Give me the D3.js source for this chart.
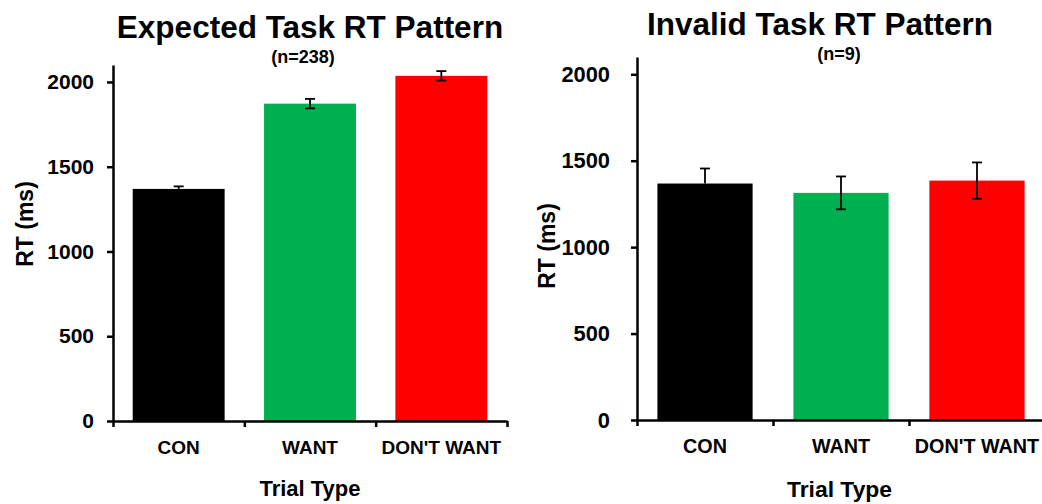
<!DOCTYPE html>
<html>
<head>
<meta charset="utf-8">
<script src="https://cdn.jsdelivr.net/npm/d3@7"></script>
<style>
  body { margin: 0; background: #fff; }
  text { font-family: "Liberation Sans", Arial, sans-serif; font-weight: bold; fill: #000; }
</style>
</head>
<body>
<div id="chart"></div>
<script>
// data
var categories = ["CON", "WANT", "DON'T WANT"];
var barColors = ["#000000", "#00b050", "#ff0000"];
var yTicks = [0, 500, 1000, 1500, 2000];

var expectedMeans = [1369, 1872, 2036];
var expectedErrors = [15, 28, 28];

var invalidMeans = [1368, 1314, 1385];
var invalidErrors = [87, 95, 105];

// CON error bar only shows its upper half (bar covers the rest)
var twoSided = [false, true, true];

var svgWidth = 1042;
var svgHeight = 504;

var svg = d3.select("#chart")
    .append("svg")
    .attr("width", svgWidth)
    .attr("height", svgHeight);

// panel layout
var panels = [
    {
        title: "Expected Task RT Pattern", titleX: 310, titleY: 38,
        sub: "(n=238)", subX: 303, subY: 63,
        means: expectedMeans, errors: expectedErrors,
        left: 113, right: 507, bottom: 421, top: 65,
        tickPad: 13, ylabX: 33, ylabY: 224, xlabY: 496, catY: 454,
        fontScale: 1
    },
    {
        title: "Invalid Task RT Pattern", titleX: 820, titleY: 35,
        sub: "(n=9)", subX: 839, subY: 60,
        means: invalidMeans, errors: invalidErrors,
        left: 637, right: 1045, bottom: 420, top: 57,
        tickPad: 21, ylabX: 555, ylabY: 246, xlabY: 497, catY: 453,
        fontScale: 1.04
    }
];

drawPanel = (p) => {
    var g = svg.append("g");

    var y = d3.scaleLinear()
        .domain([0, 2100])
        .range([p.bottom, p.top]);

    var x = d3.scaleBand()
        .domain(categories)
        .range([p.left, p.right])
        .paddingInner(0.3)
        .paddingOuter(0.15);

    var xTicks = d3.scaleLinear()
        .domain([0, categories.length])
        .range([p.left, p.right]);

    // bars
    g.selectAll(".bar")
        .data(p.means)
        .enter()
        .append("rect")
        .attr("x", (d, i) => x(categories[i]))
        .attr("width", x.bandwidth())
        .attr("y", d => y(d))
        .attr("height", d => y(0) - y(d))
        .attr("fill", (d, i) => barColors[i]);

    // error bars
    var cap = 5;
    p.means.forEach((m, i) => {
        var cx = x(categories[i]) + x.bandwidth() / 2;
        var lo = twoSided[i] ? m - p.errors[i] : m;
        var hi = m + p.errors[i];
        var eg = g.append("g")
            .attr("stroke", "#000")
            .attr("stroke-width", 1.8);
        eg.append("line")
            .attr("x1", cx).attr("x2", cx)
            .attr("y1", y(lo)).attr("y2", y(hi));
        eg.append("line")
            .attr("x1", cx - cap).attr("x2", cx + cap)
            .attr("y1", y(hi)).attr("y2", y(hi));
        if (twoSided[i]) {
            eg.append("line")
                .attr("x1", cx - cap).attr("x2", cx + cap)
                .attr("y1", y(lo)).attr("y2", y(lo));
        }
    });

    // y axis
    var yAxis = g.append("g")
        .attr("transform", `translate(${p.left}, 0)`)
        .call(d3.axisLeft(y)
            .tickValues(yTicks)
            .tickSize(6)
            .tickSizeOuter(0)
            .tickPadding(p.tickPad)
            .tickFormat(d3.format("d")));
    yAxis.select(".domain").attr("stroke-width", 2.5);
    yAxis.selectAll(".tick line").attr("stroke-width", 2.5);
    yAxis.selectAll(".tick text")
        .attr("font-size", 21 * p.fontScale)
        .attr("font-family", null);

    // x axis
    var xAxis = g.append("g")
        .attr("transform", `translate(0, ${p.bottom})`)
        .call(d3.axisBottom(xTicks)
            .tickValues(d3.range(categories.length + 1))
            .tickSize(6)
            .tickSizeOuter(0)
            .tickFormat(""));
    xAxis.select(".domain").attr("stroke-width", 2.5);
    xAxis.selectAll(".tick line").attr("stroke-width", 2.5);

    // category labels
    g.selectAll(".cat")
        .data(categories)
        .enter()
        .append("text")
        .attr("x", d => x(d) + x.bandwidth() / 2)
        .attr("y", p.catY)
        .attr("text-anchor", "middle")
        .attr("font-size", 19 * p.fontScale)
        .text(d => d);

    // titles
    g.append("text")
        .attr("x", p.titleX)
        .attr("y", p.titleY)
        .attr("text-anchor", "middle")
        .attr("font-size", 31.5)
        .text(p.title);

    g.append("text")
        .attr("x", p.subX)
        .attr("y", p.subY)
        .attr("text-anchor", "middle")
        .attr("font-size", 18)
        .text(p.sub);

    // axis titles
    g.append("text")
        .attr("x", (p.left + Math.min(p.right, svgWidth)) / 2)
        .attr("y", p.xlabY)
        .attr("text-anchor", "middle")
        .attr("font-size", 22 * p.fontScale)
        .text("Trial Type");

    g.append("text")
        .attr("transform", `translate(${p.ylabX}, ${p.ylabY}) rotate(-90)`)
        .attr("text-anchor", "middle")
        .attr("font-size", 23)
        .text("RT (ms)");
}

panels.forEach(drawPanel);
</script>
</body>
</html>
